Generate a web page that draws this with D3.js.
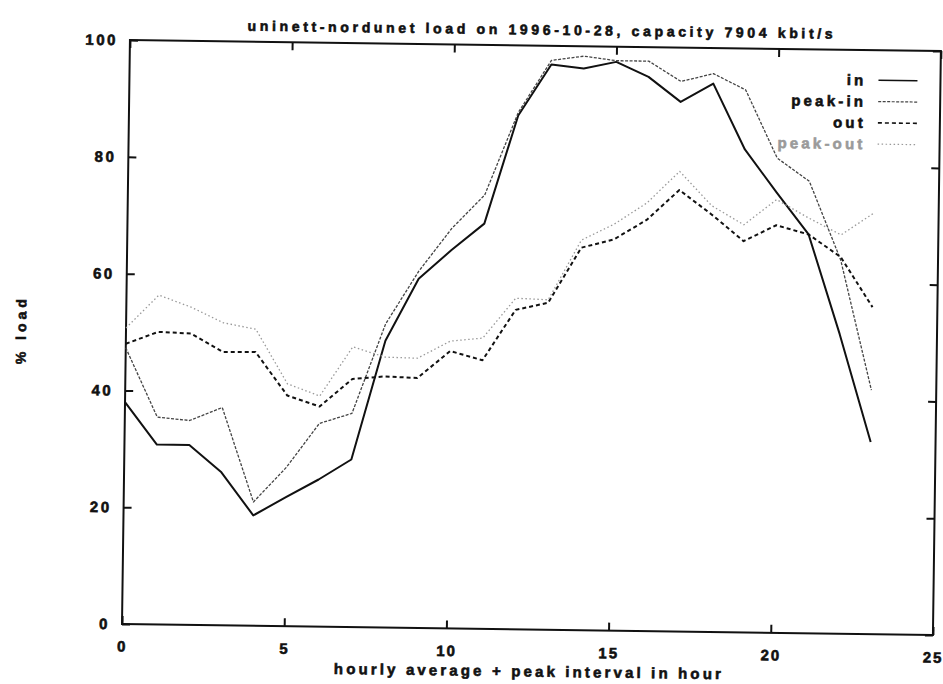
<!DOCTYPE html>
<style>
body { margin: 0; background: #fff; }
svg text { font-family: "Liberation Sans", Arial, sans-serif; font-weight: bold; fill: #111; stroke: #111; stroke-width: 0.6px; }
.axis .domain { display: none; }
.axis line { stroke: #111; stroke-width: 2; }
</style>
<svg width="943" height="684"></svg>
<script src="https://d3js.org/d3.v7.min.js"></script>
<script>

// hourly values (% of 7904 kbit/s)
var hours = [0,1,2,3,4,5,6,7,8,9,10,11,12,13,14,15,16,17,18,19,20,21,22,23];
var inLoad  = [38, 30.8, 30.8, 26.2, 18.9, 22.1, 25.2, 28.7, 49.1, 59.8, 64.8, 69.4, 88, 96.8, 96.2, 97.4, 94.9, 90.7, 93.9, 82.7, 75.4, 68.3, 51.3, 32.9];
var peakIn  = [47.3, 35.5, 35, 37.3, 21.2, 27.2, 34.8, 36.6, 52, 61.1, 68.5, 74.3, 88.5, 97.5, 98.3, 97.6, 97.6, 94.2, 95.6, 92.9, 81.3, 77.4, 64, 41.8];
var outLoad = [48, 50.1, 49.9, 46.8, 46.9, 39.5, 37.7, 42.5, 43, 42.8, 47.5, 46, 54.7, 56, 65.5, 67, 70.4, 75.6, 71.5, 67, 69.8, 68.3, 64.5, 56];
var peakOut = [50.7, 56.4, 54.4, 51.8, 50.8, 41.5, 39.5, 48, 46.3, 46.2, 49.2, 49.8, 56.7, 56.5, 66.8, 69.6, 73.3, 78.8, 73, 69.8, 74.2, 71.1, 68.3, 72.1];

var xTicks = [0, 5, 10, 15, 20, 25];
var yTicks = [0, 20, 40, 60, 80, 100];

var svg = d3.select("svg"),
    margin = {top: 40, left: 122},
    width = 811,
    height = 584;

// the original is a slightly tilted scan
var g = svg.append("g")
    .attr("transform", "rotate(0.78," + margin.left + "," + (margin.top + height) + ") translate(" + margin.left + "," + margin.top + ")");

var x = d3.scaleLinear().domain([0, 25]).range([0, width]);
var y = d3.scaleLinear().domain([0, 100]).range([height, 0]);

var series = [
  {name: "in",       values: inLoad,  color: "#111", width: 2,   dash: null,      text: "#111"},
  {name: "peak-in",  values: peakIn,  color: "#444", width: 1.3, dash: "3,1.5",   text: "#111"},
  {name: "out",      values: outLoad, color: "#111", width: 2,   dash: "4,3",     text: "#111"},
  {name: "peak-out", values: peakOut, color: "#999", width: 1.3, dash: "1.5,2.5", text: "#9a9a9a"}
];

// axes: inward ticks on all four sides
g.append("g").attr("class", "axis")
    .attr("transform", "translate(0," + height + ")")
    .call(d3.axisBottom(x).tickValues(xTicks).tickSizeInner(-8).tickSizeOuter(0).tickPadding(17))
    .selectAll("text").style("font-size", "15px").style("letter-spacing", "2px").attr("fill", "#111");

g.append("g").attr("class", "axis")
    .call(d3.axisLeft(y).tickValues(yTicks).tickSizeInner(-8).tickSizeOuter(0).tickPadding(12))
    .selectAll("text").style("font-size", "15px").style("letter-spacing", "2.5px").attr("fill", "#111");

g.append("g").attr("class", "axis")
    .call(d3.axisTop(x).tickValues(xTicks).tickSizeInner(-8).tickSizeOuter(0).tickFormat(""));

g.append("g").attr("class", "axis")
    .attr("transform", "translate(" + width + ",0)")
    .call(d3.axisRight(y).tickValues(yTicks).tickSizeInner(-8).tickSizeOuter(0).tickFormat(""));

g.append("rect")
    .attr("width", width)
    .attr("height", height)
    .attr("fill", "none")
    .attr("stroke", "#111")
    .attr("stroke-width", 2);

var line = d3.line()
    .x(function(d, i) { return x(hours[i]); })
    .y(function(d) { return y(d); });

g.selectAll(".serie")
  .data(series)
  .enter().append("path")
    .attr("class", "serie")
    .attr("d", function(d) { return line(d.values); })
    .attr("fill", "none")
    .attr("stroke", function(d) { return d.color; })
    .attr("stroke-width", function(d) { return d.width; })
    .attr("stroke-dasharray", function(d) { return d.dash; })
    .attr("stroke-linejoin", "round");

// legend
var legend = g.selectAll(".legend")
  .data(series)
  .enter().append("g")
    .attr("class", "legend")
    .attr("transform", function(d, i) { return "translate(0," + (30 + i * 21.3) + ")"; });

legend.append("text")
    .attr("x", 737)
    .attr("dy", "0.35em")
    .attr("text-anchor", "end")
    .style("font-size", "15px")
    .style("letter-spacing", "3.2px")
    .style("fill", function(d) { return d.text; })
    .style("stroke", function(d) { return d.text; })
    .text(function(d) { return d.name; });

legend.append("line")
    .attr("x1", 749)
    .attr("x2", 788)
    .attr("stroke", function(d) { return d.color; })
    .attr("stroke-width", function(d) { return d.width === 2 ? 1.6 : 1.2; })
    .attr("stroke-dasharray", function(d) { return d.dash; });

// titles
g.append("text")
    .attr("x", 410)
    .attr("y", -11)
    .attr("text-anchor", "middle")
    .attr("textLength", 585)
    .attr("lengthAdjust", "spacing")
    .style("font-size", "14px")
    .text("uninett-nordunet load on 1996-10-28, capacity 7904 kbit/s");

g.append("text")
    .attr("x", 406)
    .attr("y", height + 47)
    .attr("text-anchor", "middle")
    .attr("textLength", 387)
    .attr("lengthAdjust", "spacing")
    .style("font-size", "15px")
    .text("hourly average + peak interval in hour");

g.append("text")
    .attr("transform", "translate(-100," + 293 + ") rotate(-90)")
    .attr("text-anchor", "middle")
    .attr("textLength", 65)
    .attr("lengthAdjust", "spacing")
    .style("font-size", "14px")
    .text("% load");

</script>
